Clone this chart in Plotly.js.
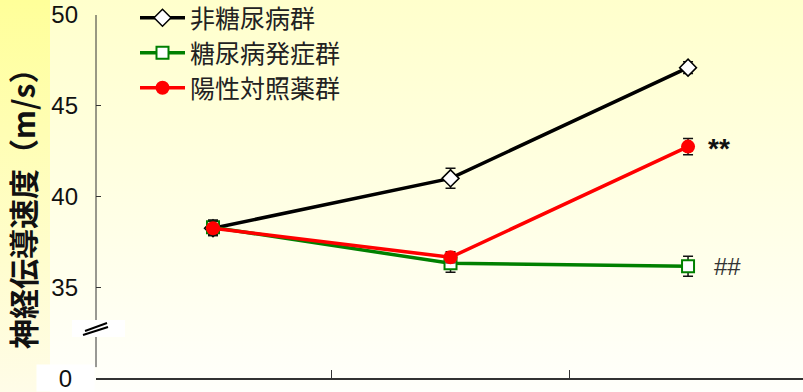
<!DOCTYPE html>
<html>
<head>
<meta charset="utf-8">
<script src="https://cdn.plot.ly/plotly-3.0.1.min.js"></script>
<style>
  body { margin: 0; }
  #myDiv {
    width: 803px;
    height: 392px;
    background:
      linear-gradient(to bottom, #ffff99, #fffce8) 0 0 / 50px 100% no-repeat,
      linear-gradient(to bottom, #ffffcc, #fffffb);
  }
</style>
</head>
<body>
<div id="myDiv"></div>
<script>
var xVals = [0, 1, 2];

var nonDiabetic = [38.25, 41.0, 47.1];
var nonDiabeticErr = [0.4, 0.55, 0.33];

var diabetic = [38.3, 36.32, 36.16];
var diabeticErr = [0.4, 0.5, 0.55];

var positive = [38.25, 36.65, 42.75];
var positiveErr = [0.4, 0.3, 0.45];

var seriesNames = ["非糖尿病群", "糖尿病発症群", "陽性対照薬群"];
var yTicks = [35, 40, 45, 50];

var errStyle = function (arr) {
  return { type: "data", array: arr, visible: true, color: "#111", thickness: 1.5, width: 5 };
};

var trace1 = {
  x: xVals,
  y: nonDiabetic,
  name: seriesNames[0],
  legend: "legend",
  mode: "lines+markers",
  line: { color: "#000000", width: 3.5 },
  marker: { symbol: "diamond", size: 13, color: "#ffffff", line: { color: "#000000", width: 1.5 } },
  error_y: errStyle(nonDiabeticErr),
};

var trace2 = {
  x: xVals,
  y: diabetic,
  name: seriesNames[1],
  legend: "legend2",
  mode: "lines+markers",
  line: { color: "#008000", width: 3.5 },
  marker: { symbol: "square", size: 12, color: "#ffffff", line: { color: "#008000", width: 2 } },
  error_y: errStyle(diabeticErr),
};

var trace3 = {
  x: xVals,
  y: positive,
  name: seriesNames[2],
  legend: "legend3",
  mode: "lines+markers",
  line: { color: "#ff0000", width: 3.5 },
  marker: { symbol: "circle", size: 14, color: "#ff0000" },
  error_y: errStyle(positiveErr),
};

// pixel -> paper helpers for decoration
var px = function (p) { return (p - 96) / 707; };
var py = function (p) { return (378 - p) / 363; };

var legendAt = function (rowY) {
  return {
    x: px(135),
    y: py(rowY),
    xanchor: "left",
    yanchor: "middle",
    itemwidth: 45,
    bgcolor: "rgba(0,0,0,0)",
    font: { family: "Noto Sans CJK JP", size: 25, color: "#222" },
  };
};

var layout = {
  width: 803,
  height: 392,
  margin: { l: 96, r: 0, t: 15, b: 14, autoexpand: false },
  paper_bgcolor: "rgba(0,0,0,0)",
  plot_bgcolor: "rgba(0,0,0,0)",
  showlegend: true,
  legend: legendAt(18),
  legend2: legendAt(53),
  legend3: legendAt(88),
  xaxis: {
    range: [-0.4926, 2.484],
    showgrid: false,
    zeroline: false,
    showline: true,
    linecolor: "#333",
    linewidth: 1.5,
    ticks: "inside",
    ticklen: 8,
    tickcolor: "#333",
    tickvals: [0.5, 1.5],
    showticklabels: false,
    fixedrange: true,
  },
  yaxis: {
    range: [30, 50],
    showgrid: false,
    zeroline: false,
    showline: false,
    ticks: "inside",
    ticklen: 5,
    tickcolor: "#333",
    tickvals: yTicks,
    ticklabelstandoff: 17,
    tickfont: { family: "Liberation Sans", size: 24, color: "#111" },
    fixedrange: true,
  },
  shapes: [
    { type: "line", xref: "paper", yref: "y", x0: 0, x1: 0, y0: 30.6, y1: 50, line: { color: "#333", width: 1 } },
    { type: "rect", xref: "paper", yref: "paper", x0: px(72), x1: px(125), y0: py(337), y1: py(320), fillcolor: "#ffffff", line: { width: 0 } },
    { type: "line", xref: "paper", yref: "paper", x0: px(83), x1: px(108), y0: py(335), y1: py(327), line: { color: "#000", width: 2 } },
    { type: "line", xref: "paper", yref: "paper", x0: px(85), x1: px(107), y0: py(331), y1: py(323), line: { color: "#000", width: 2 } },
  ],
  annotations: [
    {
      text: "神経伝導速度（m/s）",
      xref: "paper", yref: "paper",
      x: px(22), y: py(202),
      xanchor: "center", yanchor: "middle",
      textangle: -90,
      showarrow: false,
      font: { family: "Noto Sans CJK JP", size: 30, weight: 700, color: "#111" },
    },
    {
      text: "0",
      xref: "paper", yref: "y",
      x: px(95), y: 30,
      xanchor: "right", yanchor: "middle",
      width: 55, height: 24,
      bgcolor: "#ffffff",
      showarrow: false,
      font: { family: "Liberation Sans", size: 24, color: "#111" },
    },
    {
      text: "**",
      x: 2, y: positive[2],
      xshift: 31, yshift: -2,
      showarrow: false,
      font: { family: "Liberation Sans", size: 28, weight: 700, color: "#111" },
    },
    {
      text: "##",
      x: 2, y: diabetic[2],
      xshift: 39,
      showarrow: false,
      font: { family: "Liberation Sans", size: 24, color: "#333" },
    },
  ],
};

document.addEventListener("DOMContentLoaded", () => {
  Plotly.newPlot("myDiv", [trace1, trace2, trace3], layout, { displayModeBar: false });
});
</script>
</body>
</html>
